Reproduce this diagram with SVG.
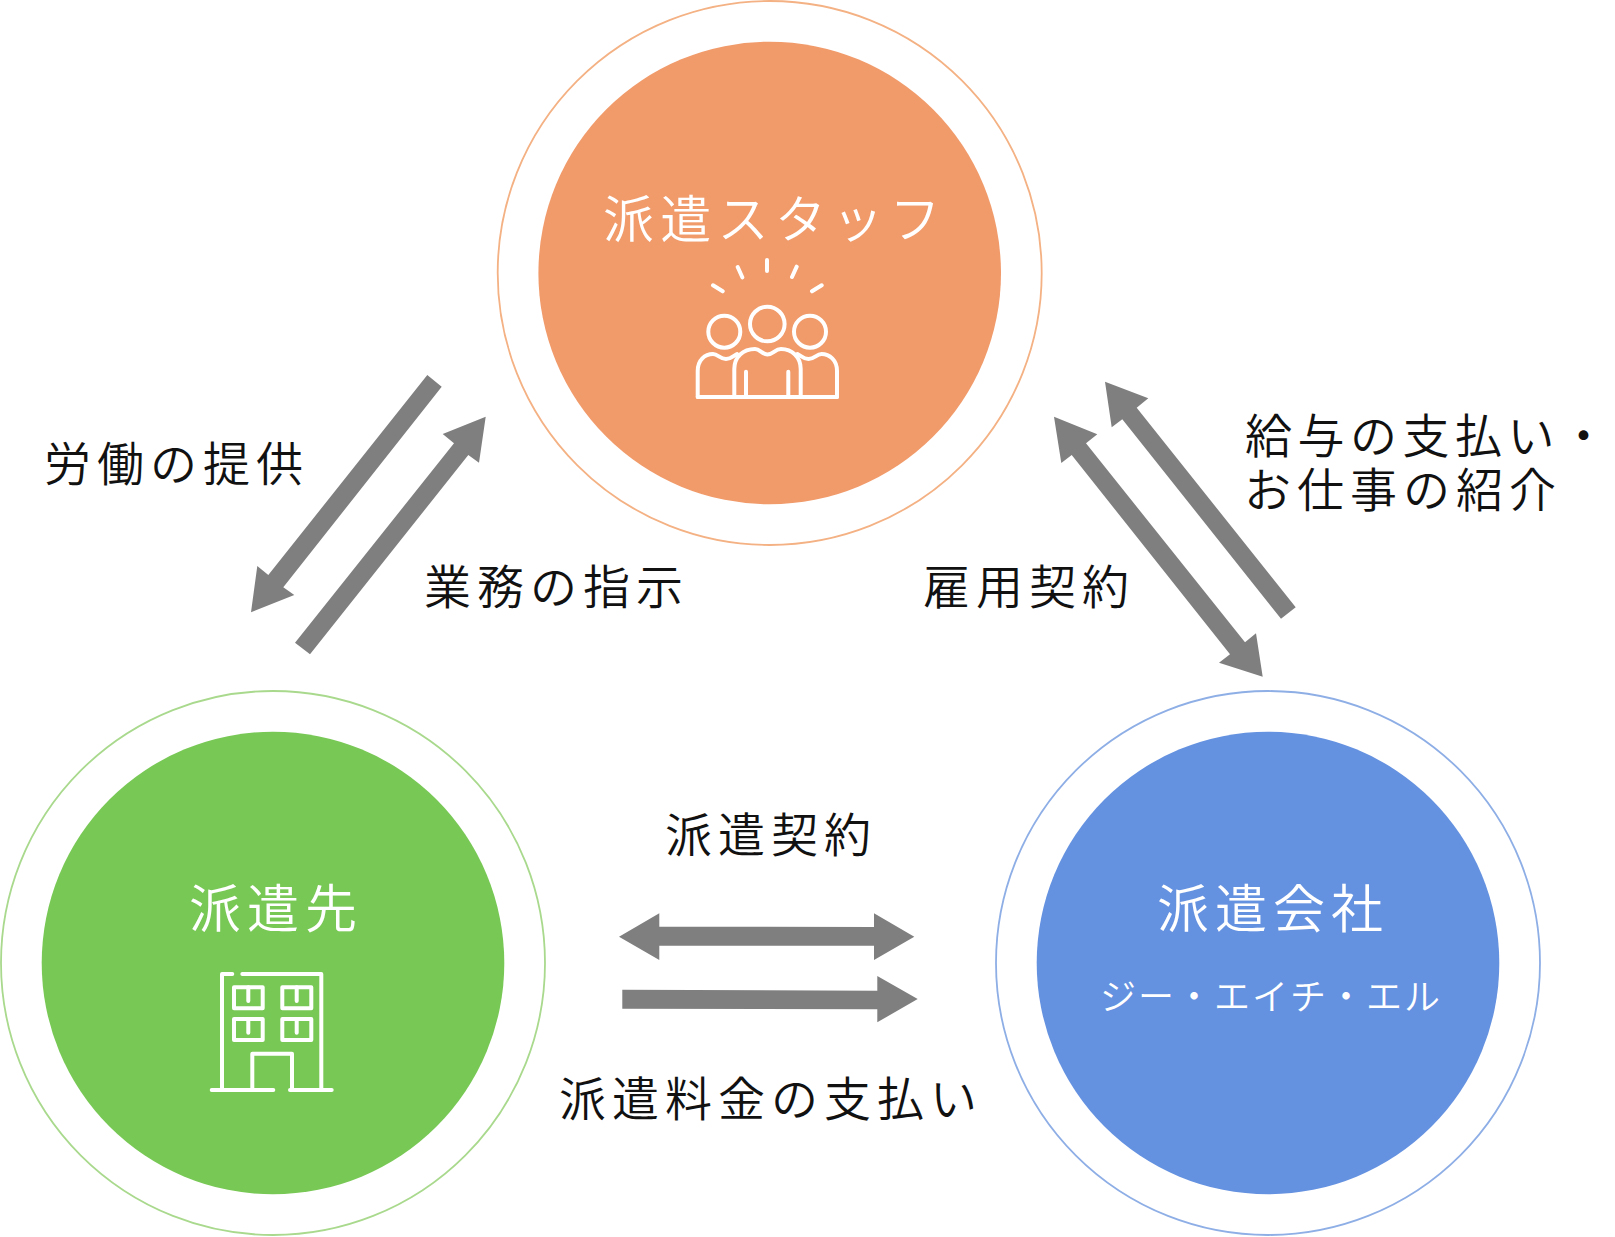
<svg xmlns="http://www.w3.org/2000/svg" width="1615" height="1237" viewBox="0 0 1615 1237">
<style>
text{font-family:"Noto Sans CJK JP","Noto Sans",sans-serif;font-weight:350}
.l{font-size:47px;letter-spacing:6px;fill:#111}
.t{letter-spacing:5.5px}
.n{font-size:52px;letter-spacing:6px;fill:#fff}
.k{font-size:51px;letter-spacing:6.3px;fill:#fff}
.s{font-size:36px;letter-spacing:2px;fill:#fff}
.a{fill:#7f7f7f}
.i{fill:none;stroke:#fff;stroke-width:4;stroke-linecap:round;stroke-linejoin:round}
.o{fill:#fff;stroke-width:1.8}
</style>
<rect width="1615" height="1237" fill="#fff"/>
<g id="connectors">
<polygon class="a" points="427.3,375 441.7,386.7 283.3,587.3 294.3,595 251,612.3 257.3,566 268.3,575"/>
<polygon class="a" points="295,642.7 310,654.3 468.3,455 479,462.7 485.7,416.7 442.7,434 454,443.3"/>
<polygon class="a" points="1295.7,607.3 1281,618.7 1122.3,419.3 1111.7,427.3 1105,381.7 1148.3,398.3 1136.7,407.7"/>
<polygon class="a" points="1054,416.7 1097.3,434.3 1086,443.3 1245,642.3 1256,633.3 1262.7,676.7 1219,662.7 1230,654.3 1071.7,455 1061.3,463"/>
<polygon class="a" points="619,936.7 659.3,913.3 659.3,926.7 874,927 874,913.3 914.3,936.7 874,960 874,945.7 659.3,945.7 659.3,960"/>
<polygon class="a" points="622.3,989.7 877.3,990.7 877.3,976 917.7,999 877.3,1022.3 877.3,1009.3 622.3,1008.7"/>
</g>
<g id="node-staff">
<circle class="o" cx="769.7" cy="273" r="272" stroke="#f4b183"/>
<circle cx="769.7" cy="273" r="231.3" fill="#f19a6a"/>
<text class="k" x="603" y="238">派遣スタッフ</text>
<g class="i">
<circle cx="767.3" cy="324" r="17.3"/><circle cx="724.3" cy="331.7" r="16"/><circle cx="810" cy="331.7" r="16"/>
<path d="M767 260V271M737.7 267L742.3 277.3M796.7 266.7L792 277M713 285.3L722.7 291.3M821.7 285.3L812 291.3"/>
<path d="M697.7 397H837M734.3 397V369C734.3 357 743 349 755 349C760 349 762 354.5 767.3 354.5C773 354.5 775 349 781 349C792 349 800.7 357 800.7 369V397M746 371.7V397M788.3 371.7V397"/>
<path d="M697.7 397V371C697.7 360 705 354 713 354C718 354 720 359 726 359C731 359 733 356 737 354M837 397V371C837 360 829.5 354 821.5 354C816.5 354 814.5 359 808.5 359C803.5 359 801.5 356 797.5 354"/>
</g>
</g>
<g id="node-client">
<circle class="o" cx="273" cy="963" r="272" stroke="#a9d98d"/>
<circle cx="273" cy="963" r="231.3" fill="#78c855"/>
<text class="n" x="189" y="928">派遣先</text>
<g class="i">
<path d="M222 1090V974H232.3M242.3 974H321.3V1090M211.7 1090H273.3M290 1090H331.7M252.3 1090V1053.7H292V1090"/>
<rect x="234" y="987.3" width="28.7" height="21"/><rect x="282.3" y="987.3" width="29" height="21"/><rect x="234" y="1019" width="28.7" height="21"/><rect x="282.3" y="1019" width="29" height="21"/>
<path d="M248.3 987.3V1001M296.7 987.3V1001M248.3 1019V1032.7M296.7 1019V1032.7"/>
</g>
</g>
<g id="node-agency">
<circle class="o" cx="1268" cy="963" r="272" stroke="#8eaee6"/>
<circle cx="1268" cy="963" r="231.3" fill="#6491e0"/>
<text class="n" x="1157" y="928">派遣会社</text>
<text class="s" x="1100" y="1010">ジー・エイチ・エル</text>
</g>
<g id="labels">
<text class="l" x="44" y="481">労働の提供</text>
<text class="l" x="424" y="604">業務の指示</text>
<text class="l" x="923" y="604">雇用契約</text>
<text class="l t" x="1245" y="453">給与の支払い・</text>
<text class="l" x="1244" y="507">お仕事の紹介</text>
<text class="l" x="665" y="852">派遣契約</text>
<text class="l" x="559" y="1116">派遣料金の支払い</text>
</g>
</svg>
